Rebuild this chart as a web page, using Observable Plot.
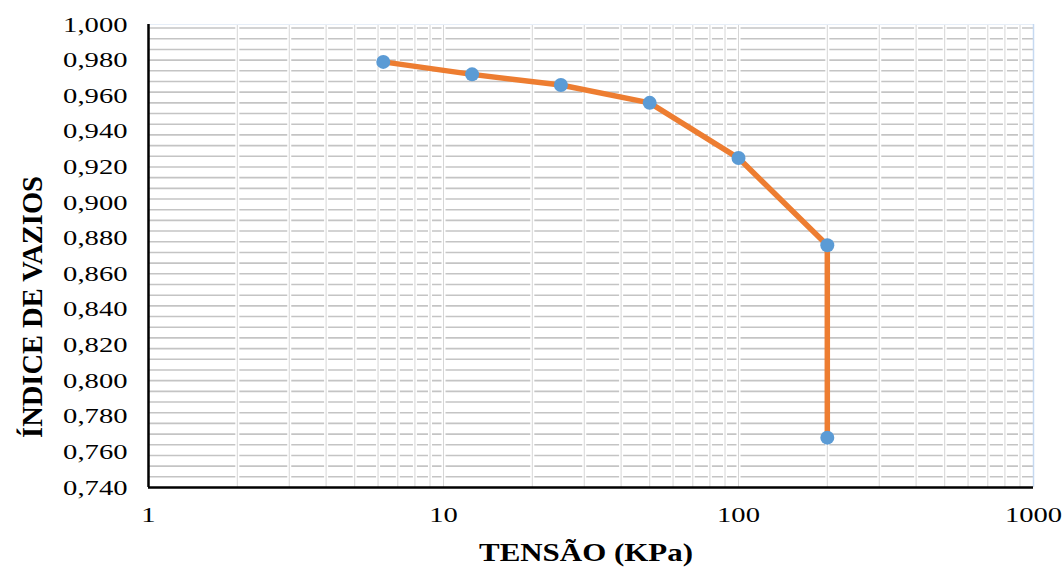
<!DOCTYPE html>
<html>
<head>
<meta charset="utf-8">
<script src="https://cdn.jsdelivr.net/npm/d3@7"></script>
<script src="https://cdn.jsdelivr.net/npm/@observablehq/plot@0.6"></script>
<style>
  html, body { margin: 0; padding: 0; background: white; }
  #chart svg, #chart svg text { font-family: "Liberation Serif", "DejaVu Serif", serif !important; }
</style>
</head>
<body>
<div id="chart"></div>
<script>
// Data
const tension = [6.25, 12.5, 25, 50, 100, 200, 200];            // KPa
const voidRatio = [0.979, 0.972, 0.966, 0.956, 0.925, 0.876, 0.768];

// Axis tick labels
const xTicks = [1, 10, 100, 1000];
const yTicks = [0.74, 0.76, 0.78, 0.80, 0.82, 0.84, 0.86, 0.88, 0.90, 0.92, 0.94, 0.96, 0.98, 1.00];
const xTitle = "TENSÃO (KPa)";
const yTitle = "ÍNDICE DE VAZIOS";

// Gridlines (log minor lines and 0.006 minor unit for y)
const xGrid = [2, 3, 4, 5, 6, 7, 8, 9, 10, 20, 30, 40, 50, 60, 70, 80, 90, 100, 200, 300, 400, 500, 600, 700, 800, 900];
const yGrid = d3.range(1, 44).map(i => +(0.74 + i * 0.006).toFixed(3));

const data = tension.map((t, i) => ({t, e: voidRatio[i]}));

const chart = Plot.plot({
  width: 1062,
  height: 571,
  marginLeft: 148,
  marginRight: 29,
  marginTop: 24,
  marginBottom: 84,
  x: {type: "log", domain: [1, 1000]},
  y: {domain: [0.74, 1.0]},
  style: {fontFamily: "Liberation Serif", fontSize: "22px", color: "black", background: "white"},
  marks: [
    Plot.ruleY(yGrid, {stroke: "#c4c4c4", strokeWidth: 1.6}),
    Plot.ruleX(xGrid, {stroke: "white", strokeWidth: 4}),
    Plot.ruleX(xGrid, {stroke: "#d6d6d6", strokeWidth: 1}),
    Plot.ruleY([1.0], {stroke: "#e6eef8", strokeWidth: 1}),
    Plot.ruleX([1000], {stroke: "#c6d9f1", strokeWidth: 1.5}),
    Plot.axisX(xTicks, {tickSize: 0, tickPadding: 19, tickFormat: d => String(d), fontSize: 22, label: null}),
    Plot.axisY(yTicks, {tickSize: 0, tickPadding: 21, tickFormat: d => d.toFixed(3).replace(".", ","), fontSize: 22, label: null}),
    Plot.ruleX([1], {stroke: "black", strokeWidth: 2.5}),
    Plot.ruleY([0.74], {stroke: "black", strokeWidth: 2.5}),
    Plot.line(data, {x: "t", y: "e", stroke: "#ed7d31", strokeWidth: 5.5, strokeLinejoin: "round"}),
    Plot.dot(data, {x: "t", y: "e", r: 7, fill: "#5b9bd5", stroke: "none"}),
    Plot.text([xTitle], {frameAnchor: "bottom", dy: 65, dx: -5, fontSize: 26, fontWeight: "bold", textAnchor: "middle", lineAnchor: "middle", fill: "black"}),
    Plot.text([yTitle], {frameAnchor: "left", rotate: -90, dx: -116, dy: 51, fontSize: 28.5, fontWeight: "bold", textAnchor: "middle", lineAnchor: "middle", fill: "black"})
  ]
});
document.getElementById("chart").appendChild(chart);

// The reference is stretched horizontally; widen horizontal texts to match.
const stretch = (sel, k) => chart.querySelectorAll(sel).forEach(t => {
  const L = t.getComputedTextLength();
  t.setAttribute("textLength", (L * k).toFixed(1));
  t.setAttribute("lengthAdjust", "spacingAndGlyphs");
});
stretch('g[aria-label="x-axis tick label"] text, g[aria-label="y-axis tick label"] text', 1.3);
chart.querySelectorAll('g[aria-label="text"] text').forEach(t => {
  if (t.textContent === xTitle) {
    const L = t.getComputedTextLength();
    t.setAttribute("textLength", (L * 1.19).toFixed(1));
    t.setAttribute("lengthAdjust", "spacingAndGlyphs");
  }
});
</script>
</body>
</html>
